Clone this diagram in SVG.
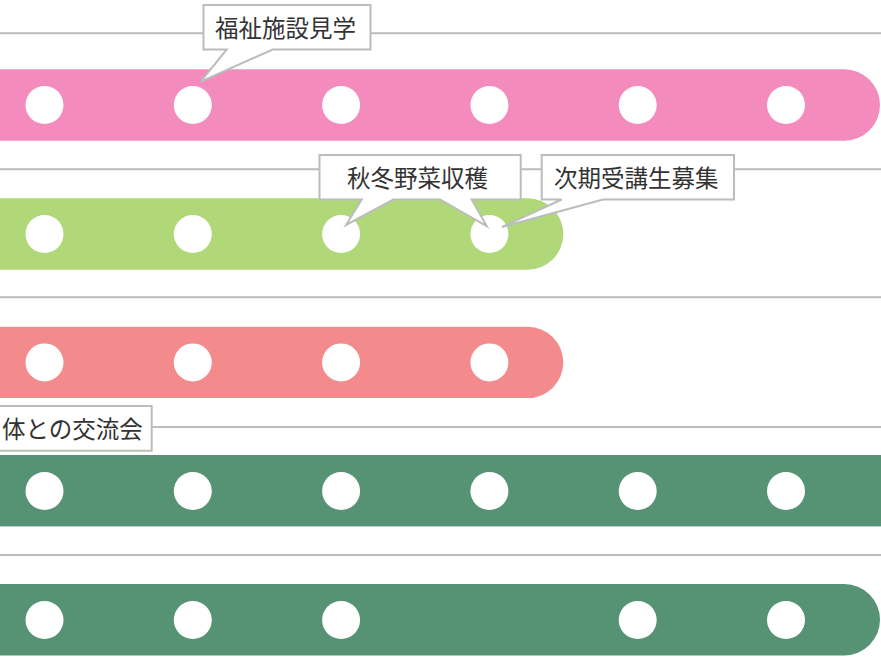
<svg xmlns="http://www.w3.org/2000/svg" width="881" height="667" viewBox="0 0 881 667">
  <style>
    .rule { stroke: #b9beba; stroke-width: 2; fill: none; }
    .dot { fill: #ffffff; }
    .callout { fill: #ffffff; stroke: #b9beba; stroke-width: 2; stroke-linejoin: miter; }
    .label { font-family: "Noto Sans CJK JP", "Noto Sans", sans-serif; font-size: 23.5px; fill: #333333; }
  </style>
  <defs>
    <g id="dots6">
      <circle class="dot" cx="44.5" cy="0" r="19"/>
      <circle class="dot" cx="192.8" cy="0" r="19"/>
      <circle class="dot" cx="341.1" cy="0" r="19"/>
      <circle class="dot" cx="489.4" cy="0" r="19"/>
      <circle class="dot" cx="637.7" cy="0" r="19"/>
      <circle class="dot" cx="786" cy="0" r="19"/>
    </g>
  </defs>
  <rect width="881" height="667" fill="#ffffff"/>

  <g id="connectors">
    <line class="rule" x1="0" y1="33.3" x2="881" y2="33.3"/>
    <line class="rule" x1="0" y1="169.3" x2="881" y2="169.3"/>
    <line class="rule" x1="0" y1="297.3" x2="881" y2="297.3"/>
    <line class="rule" x1="0" y1="427" x2="881" y2="427"/>
    <line class="rule" x1="0" y1="555" x2="881" y2="555"/>
  </g>

  <g id="row1">
    <rect x="-60" y="69.3" width="940" height="71.4" rx="35.7" fill="#f48bbd"/>
    <use href="#dots6" y="105"/>
  </g>
  <g id="row2">
    <rect x="-60" y="198.3" width="623.3" height="71.4" rx="35.7" fill="#b0d879"/>
    <circle class="dot" cx="44.5" cy="234" r="19"/>
    <circle class="dot" cx="192.8" cy="234" r="19"/>
    <circle class="dot" cx="341.1" cy="234" r="19"/>
    <circle class="dot" cx="489.4" cy="234" r="19"/>
  </g>
  <g id="row3">
    <rect x="-60" y="326.7" width="623.3" height="71.4" rx="35.7" fill="#f38a8b"/>
    <circle class="dot" cx="44.5" cy="362.4" r="19"/>
    <circle class="dot" cx="192.8" cy="362.4" r="19"/>
    <circle class="dot" cx="341.1" cy="362.4" r="19"/>
    <circle class="dot" cx="489.4" cy="362.4" r="19"/>
  </g>
  <g id="row4">
    <rect x="-60" y="455" width="1000" height="71.4" fill="#559374"/>
    <use href="#dots6" y="491"/>
  </g>
  <g id="row5">
    <rect x="-60" y="584" width="940" height="71.4" rx="35.7" fill="#559374"/>
    <circle class="dot" cx="44.5" cy="620" r="19"/>
    <circle class="dot" cx="192.8" cy="620" r="19"/>
    <circle class="dot" cx="341.1" cy="620" r="19"/>
    <circle class="dot" cx="637.7" cy="620" r="19"/>
    <circle class="dot" cx="786" cy="620" r="19"/>
  </g>

  <g id="callout-fukushi">
    <path class="callout" d="M203.5,5 H370.5 V49.5 H272.7 L200.7,81.7 L226.7,49.5 H203.5 Z"/>
    <text class="label" x="215" y="37">福祉施設見学</text>
  </g>
  <g id="callout-shuukaku">
    <path class="callout" d="M319.5,155 H520.7 V199.5 H471.7 L486.7,226 L440,199.5 H393.3 L346,225 L361.7,199.5 H319.5 Z"/>
    <text class="label" x="347" y="187">秋冬野菜収穫</text>
  </g>
  <g id="callout-boshuu">
    <path class="callout" d="M541.7,155 H734 V199.5 H603 L502,227 L561.7,199.5 H541.7 Z"/>
    <text class="label" x="554" y="187">次期受講生募集</text>
  </g>
  <g id="callout-kouryuu">
    <path class="callout" d="M-5,406 H151.7 V450.7 H-5 Z"/>
    <text class="label" x="2" y="438">体との交流会</text>
  </g>
</svg>
